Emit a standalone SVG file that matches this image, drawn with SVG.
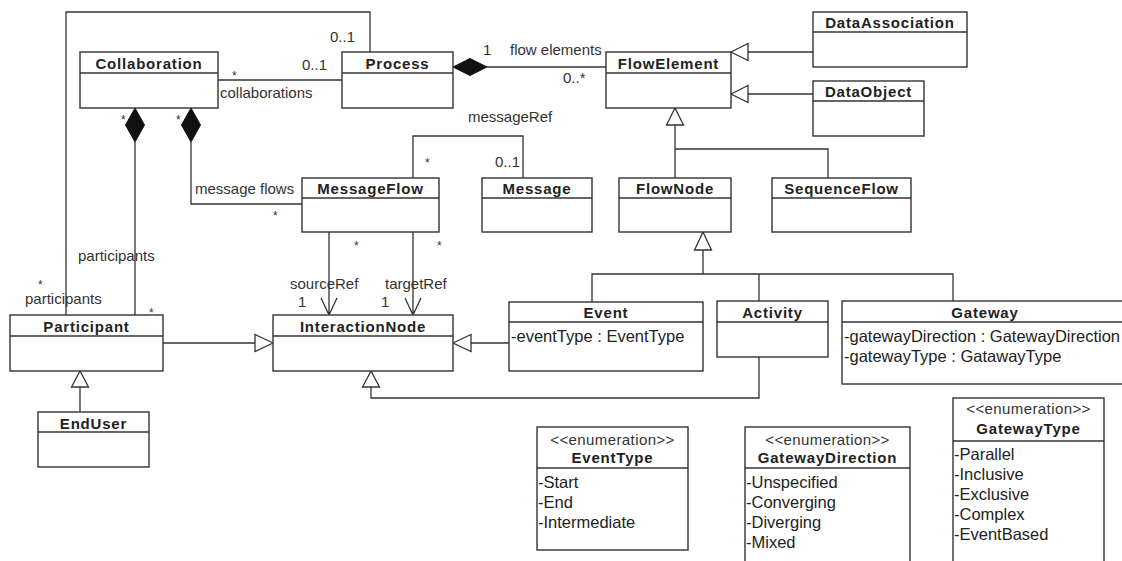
<svg xmlns="http://www.w3.org/2000/svg" width="1122" height="561" viewBox="0 0 1122 561">
<style>
.box{fill:#fff;stroke:#333;stroke-width:1.4}
.div{stroke:#333;stroke-width:1.4}
.ln{fill:none;stroke:#333;stroke-width:1.3}
.tri{fill:#fff;stroke:#333;stroke-width:1.3}
.dia{fill:#111;stroke:#111;stroke-width:1}
.hd{font-family:"Liberation Sans",Arial,sans-serif;font-weight:bold;font-size:15px;letter-spacing:0.8px;fill:#222;text-anchor:middle}
.lb{font-family:"Liberation Sans",Arial,sans-serif;font-size:15px;fill:#333}
.at{font-family:"Liberation Sans",Arial,sans-serif;font-size:16.5px;fill:#222}
.st{font-family:"Liberation Sans",Arial,sans-serif;font-size:15px;letter-spacing:0.4px;fill:#333;text-anchor:middle}
.m{font-family:"Liberation Sans",Arial,sans-serif;font-size:12px;fill:#333}
</style>
<rect width="1122" height="561" fill="#fff"/>
<g id="connectors">
  <path class="ln" d="M66,315 V12 H370 V52"/>
  <text class="lb" x="330" y="42">0..1</text>
  <text class="m" x="38" y="289">*</text>
  <text class="lb" x="25" y="304">participants</text>
  <path class="ln" d="M218,80 H342"/>
  <text class="m" x="232" y="80">*</text>
  <text class="lb" x="302" y="70">0..1</text>
  <text class="lb" x="220" y="98">collaborations</text>
  <path class="ln" d="M135,142 V315"/>
  <polygon class="dia" points="135,108 144.5,125 135,142 125.5,125"/>
  <text class="m" x="121" y="124">*</text>
  <text class="lb" x="78" y="261">participants</text>
  <text class="m" x="149" y="317">*</text>
  <path class="ln" d="M191,142 V204 H302"/>
  <polygon class="dia" points="191,108 200.5,125 191,142 181.5,125"/>
  <text class="m" x="176" y="124">*</text>
  <text class="lb" x="195" y="194">message flows</text>
  <text class="m" x="273" y="220">*</text>
  <path class="ln" d="M487,67 H606"/>
  <polygon class="dia" points="453,67 470,58.5 487,67 470,75.5"/>
  <text class="lb" x="483" y="55">1</text>
  <text class="lb" x="510" y="55">flow elements</text>
  <text class="lb" x="563" y="83">0..*</text>
  <path class="ln" d="M413,178 V136 H523 V178"/>
  <text class="lb" x="468" y="122">messageRef</text>
  <text class="m" x="425" y="167">*</text>
  <text class="lb" x="495" y="167">0..1</text>
  <path class="ln" d="M329,232 V315 M321,298 L329,315 L337,298"/>
  <text class="m" x="354" y="250">*</text>
  <text class="lb" x="290" y="289">sourceRef</text>
  <text class="lb" x="298" y="307">1</text>
  <path class="ln" d="M413,232 V315 M405,298 L413,315 L421,298"/>
  <text class="m" x="437" y="250">*</text>
  <text class="lb" x="385" y="289">targetRef</text>
  <text class="lb" x="381" y="307">1</text>
  <path class="ln" d="M813,52 H748 M813,94 H748"/>
  <polygon class="tri" points="731,52 748,43.5 748,60.5"/>
  <polygon class="tri" points="731,94 748,85.5 748,102.5"/>
  <path class="ln" d="M675,125 V178 M675,149 H828 V178"/>
  <polygon class="tri" points="675,108 666.5,125 683.5,125"/>
  <path class="ln" d="M703,250 V274 M592,302 V274 H953 V301 M759,274 V301"/>
  <polygon class="tri" points="703,232 694.5,250 711.5,250"/>
  <path class="ln" d="M163,343 H255"/>
  <polygon class="tri" points="273,343 255,334.5 255,351.5"/>
  <path class="ln" d="M509,343 H471"/>
  <polygon class="tri" points="453,343 471,334.5 471,351.5"/>
  <path class="ln" d="M759,357 V398 H371 V387"/>
  <polygon class="tri" points="371,371 362.5,387 379.5,387"/>
  <path class="ln" d="M80,412 V387"/>
  <polygon class="tri" points="80,371 71.5,387 88.5,387"/>
</g>
<g id="Collaboration">
  <rect class="box" x="80" y="52" width="138" height="56"/>
  <line class="div" x1="80" y1="73" x2="218" y2="73"/>
  <text class="hd" x="149" y="69">Collaboration</text>
</g>
<g id="Process">
  <rect class="box" x="342" y="52" width="111" height="56"/>
  <line class="div" x1="342" y1="73" x2="453" y2="73"/>
  <text class="hd" x="397.5" y="69">Process</text>
</g>
<g id="FlowElement">
  <rect class="box" x="606" y="52" width="125" height="56"/>
  <line class="div" x1="606" y1="73" x2="731" y2="73"/>
  <text class="hd" x="668.5" y="69">FlowElement</text>
</g>
<g id="DataAssociation">
  <rect class="box" x="813" y="12" width="154" height="55"/>
  <line class="div" x1="813" y1="32" x2="967" y2="32"/>
  <text class="hd" x="890" y="28">DataAssociation</text>
</g>
<g id="DataObject">
  <rect class="box" x="813" y="81" width="111" height="55"/>
  <line class="div" x1="813" y1="101" x2="924" y2="101"/>
  <text class="hd" x="868.5" y="97">DataObject</text>
</g>
<g id="MessageFlow">
  <rect class="box" x="302" y="178" width="137" height="54"/>
  <line class="div" x1="302" y1="198" x2="439" y2="198"/>
  <text class="hd" x="370.5" y="194">MessageFlow</text>
</g>
<g id="Message">
  <rect class="box" x="482" y="178" width="110" height="54"/>
  <line class="div" x1="482" y1="198" x2="592" y2="198"/>
  <text class="hd" x="537" y="194">Message</text>
</g>
<g id="FlowNode">
  <rect class="box" x="619" y="178" width="112" height="54"/>
  <line class="div" x1="619" y1="198" x2="731" y2="198"/>
  <text class="hd" x="675" y="194">FlowNode</text>
</g>
<g id="SequenceFlow">
  <rect class="box" x="772" y="178" width="139" height="54"/>
  <line class="div" x1="772" y1="198" x2="911" y2="198"/>
  <text class="hd" x="841.5" y="194">SequenceFlow</text>
</g>
<g id="Participant">
  <rect class="box" x="10" y="315" width="153" height="56"/>
  <line class="div" x1="10" y1="336" x2="163" y2="336"/>
  <text class="hd" x="86.5" y="332">Participant</text>
</g>
<g id="InteractionNode">
  <rect class="box" x="273" y="315" width="180" height="56"/>
  <line class="div" x1="273" y1="336" x2="453" y2="336"/>
  <text class="hd" x="363" y="332">InteractionNode</text>
</g>
<g id="Event">
  <rect class="box" x="509" y="302" width="194" height="69"/>
  <line class="div" x1="509" y1="322" x2="703" y2="322"/>
  <text class="hd" x="606" y="318">Event</text>
  <text class="at" x="511" y="342">-eventType : EventType</text>
</g>
<g id="Activity">
  <rect class="box" x="717" y="301" width="111" height="56"/>
  <line class="div" x1="717" y1="322" x2="828" y2="322"/>
  <text class="hd" x="772.5" y="318">Activity</text>
</g>
<g id="Gateway">
  <rect class="box" x="842" y="301" width="290" height="83"/>
  <line class="div" x1="842" y1="322" x2="1132" y2="322"/>
  <text class="hd" x="985" y="318">Gateway</text>
  <text class="at" x="844" y="342">-gatewayDirection : GatewayDirection</text>
  <text class="at" x="844" y="362">-gatewayType : GatawayType</text>
</g>
<g id="EndUser">
  <rect class="box" x="38" y="412" width="111" height="55"/>
  <line class="div" x1="38" y1="432" x2="149" y2="432"/>
  <text class="hd" x="93.5" y="429">EndUser</text>
</g>
<g id="EventType">
  <rect class="box" x="537" y="427" width="151" height="123"/>
  <line class="div" x1="537" y1="468" x2="688" y2="468"/>
  <text class="st" x="612.5" y="445">&lt;&lt;enumeration&gt;&gt;</text>
  <text class="hd" x="612.5" y="463">EventType</text>
  <text class="at" x="538" y="488">-Start</text>
  <text class="at" x="538" y="508">-End</text>
  <text class="at" x="538" y="528">-Intermediate</text>
</g>
<g id="GatewayDirection">
  <rect class="box" x="745" y="427" width="165" height="140"/>
  <line class="div" x1="745" y1="468" x2="910" y2="468"/>
  <text class="st" x="827.5" y="445">&lt;&lt;enumeration&gt;&gt;</text>
  <text class="hd" x="827.5" y="463">GatewayDirection</text>
  <text class="at" x="746" y="488">-Unspecified</text>
  <text class="at" x="746" y="508">-Converging</text>
  <text class="at" x="746" y="528">-Diverging</text>
  <text class="at" x="746" y="548">-Mixed</text>
</g>
<g id="GatewayType">
  <rect class="box" x="953" y="398" width="151" height="170"/>
  <line class="div" x1="953" y1="441" x2="1104" y2="441"/>
  <text class="st" x="1028.5" y="414">&lt;&lt;enumeration&gt;&gt;</text>
  <text class="hd" x="1028.5" y="434">GatewayType</text>
  <text class="at" x="954" y="460">-Parallel</text>
  <text class="at" x="954" y="480">-Inclusive</text>
  <text class="at" x="954" y="500">-Exclusive</text>
  <text class="at" x="954" y="520">-Complex</text>
  <text class="at" x="954" y="540">-EventBased</text>
</g>
</svg>
